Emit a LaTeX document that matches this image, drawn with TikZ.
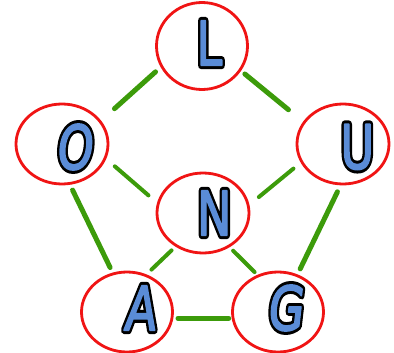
\documentclass[tikz,border=0pt]{standalone}
\usepackage{fontspec}
\usepackage{graphicx}
\usetikzlibrary{shapes.geometric,calc}
\newfontfamily\letin[FakeBold=3]{DejaVu Sans}
\newfontfamily\letout[FakeBold=13]{DejaVu Sans}
\newfontfamily\letinsl[FakeBold=3,FakeSlant=0.15]{DejaVu Sans}
\newfontfamily\letoutsl[FakeBold=13,FakeSlant=0.15]{DejaVu Sans}
\definecolor{edgegreen}{RGB}{60,155,10}
\definecolor{ringred}{RGB}{240,20,20}
\definecolor{letblue}{RGB}{90,140,215}
\newcommand\glyphbox[2]{\scalebox{0.72}[0.95]{\fontsize{64}{70}\selectfont#1 #2}}
\tikzset{
  ring/.style={ellipse, draw=ringred, line width=2.8pt, fill=white, inner sep=0pt, minimum width=91pt, minimum height=80pt},
  outerlink/.style={draw=edgegreen, line width=5pt, line cap=round, shorten <=2pt, shorten >=2pt},
  innerlink/.style={draw=edgegreen, line width=4pt, line cap=round, shorten <=2pt, shorten >=2pt},
  letterout/.style={inner sep=0pt, text=black, line join=round},
  letterin/.style={inner sep=0pt, text=letblue, line join=round}
}
\begin{document}
\begin{tikzpicture}[x=1pt,y=-1pt]
\useasboundingbox (0,0) rectangle (394,353);
% rings
\node[ring, minimum height=87pt] (L) at (202,46) {};
\node[ring, minimum width=92pt] (O) at (62,144) {};
\node[ring, minimum width=92pt] (U) at (343,144) {};
\node[ring, minimum width=92pt] (N) at (203,213) {};
\node[ring] (A) at (127,312) {};
\node[ring] (G) at (278,312) {};
% links
\draw[outerlink] ($(O)+(51,-34)$) -- ($(L)+(-45,24.5)$);
\draw[outerlink] ($(L)+(41.3,26.7)$) -- ($(U)+(-53,-33)$);
\draw[outerlink] ($(O)+(9.7,44.3)$) -- ($(A)+(-16,-42.7)$);
\draw[innerlink] ($(O)+(51.3,21)$) -- ($(N)+(-53,-16.3)$);
\draw[innerlink] ($(U)+(-48,23.3)$) -- ($(N)+(54.3,-14.7)$);
\draw[outerlink] ($(U)+(-4.7,46)$) -- ($(G)+(21.3,-41.3)$);
\draw[innerlink] ($(N)+(-30,36)$) -- ($(A)+(23,-41)$);
\draw[innerlink] ($(N)+(28.7,36.3)$) -- ($(G)+(-22,-38.5)$);
\draw[outerlink] ($(A)+(49,6.3)$) -- ($(G)+(-47.3,6.3)$);
% letters
\node[letterout] (Lo) at (202,43) {\glyphbox{\letout}{L}};
\node[letterin]  (Li) at (202,43) {\glyphbox{\letin}{L}};
\node[letterout] (Oo) at (66,147) {\glyphbox{\letoutsl}{O}};
\node[letterin]  (Oi) at (66,147) {\glyphbox{\letinsl}{O}};
\node[letterout] (Uo) at (350,147) {\glyphbox{\letout}{U}};
\node[letterin]  (Ui) at (350,147) {\glyphbox{\letin}{U}};
\node[letterout] (No) at (207,213) {\glyphbox{\letout}{N}};
\node[letterin]  (Ni) at (207,213) {\glyphbox{\letin}{N}};
\node[letterout] (Ao) at (132,308) {\glyphbox{\letoutsl}{A}};
\node[letterin]  (Ai) at (132,308) {\glyphbox{\letinsl}{A}};
\node[letterout] (Go) at (277,308) {\glyphbox{\letoutsl}{G}};
\node[letterin]  (Gi) at (277,308) {\glyphbox{\letinsl}{G}};
\end{tikzpicture}
\end{document}
